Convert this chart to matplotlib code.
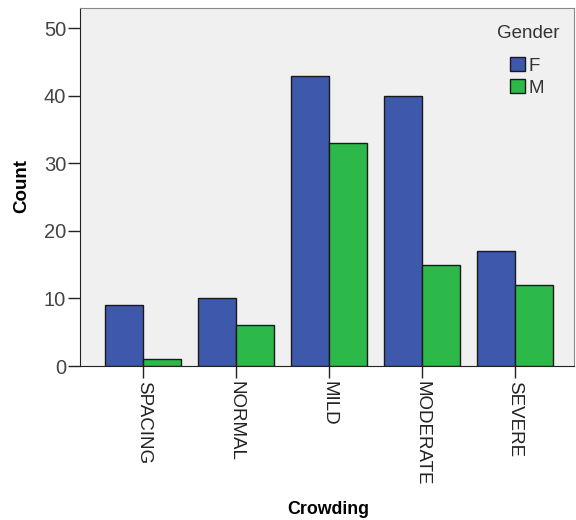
import matplotlib
matplotlib.use("Agg")
import matplotlib.pyplot as plt
import numpy as np

categories = ["SPACING", "NORMAL", "MILD", "MODERATE", "SEVERE"]
female = [9, 10, 43, 40, 17]
male = [1, 6, 33, 15, 12]
series_labels = ["F", "M"]
yticks = [0, 10, 20, 30, 40, 50]

plt.rcParams['font.family'] = ['Liberation Sans', 'DejaVu Sans']

W, H = 576, 520
fig = plt.figure(figsize=(W/100, H/100), dpi=100)
ax = fig.add_axes([80/W, (H-366)/H, (574-80)/W, (366-8)/H])
ax.set_facecolor('#F0F0F0')

x = np.arange(len(categories))
w = 0.41
ax.bar(x - w/2, female, width=w, color='#3E58AC', edgecolor='#1a1a1a', linewidth=1.0, label=series_labels[0], zorder=3)
ax.bar(x + w/2, male, width=w, color='#2DB84A', edgecolor='#1a1a1a', linewidth=1.0, label=series_labels[1], zorder=3)

fs = 13.5
ax.set_xlim(-0.68, 4.635)
ax.set_ylim(0, 53)
ax.set_yticks(yticks)
ax.set_xticks(x)
ax.set_xticklabels(categories, rotation=-90, fontsize=fs, color='#222222')
ax.tick_params(axis='y', labelsize=14.5, length=9, width=1, direction='out', colors='#222222', pad=1)
ax.tick_params(axis='x', length=8.5, width=1, direction='out', colors='#222222', pad=2)
for lbl in ax.get_yticklabels():
    lbl.set_color('#444444')

for s in ['top', 'right']:
    ax.spines[s].set_color('#888888')
for s in ['left', 'bottom']:
    ax.spines[s].set_color('#222222')

ax.set_ylabel("Count", fontsize=13.5, fontweight='bold', va='center')
ax.yaxis.set_label_coords(22/W, 1 - 186/H, transform=fig.transFigure)
ax.set_xlabel("Crowding", fontsize=12.8, fontweight='bold', va='center')
ax.xaxis.set_label_coords(328/W, 1 - 510/H, transform=fig.transFigure)

fig.text(528.5/W, 1 - 33/H, "Gender", fontsize=fs, color='#333333', ha='center', va='center')
leg = fig.legend(loc='upper left', bbox_to_anchor=(510/W, 1 - 57/H), frameon=False, fontsize=fs,
                 handlelength=0.8, handleheight=0.8, handletextpad=0.16,
                 labelspacing=0.23, borderpad=0, borderaxespad=0)
for t in leg.get_texts():
    t.set_color('#333333')

fig.savefig("out.png", dpi=100)
